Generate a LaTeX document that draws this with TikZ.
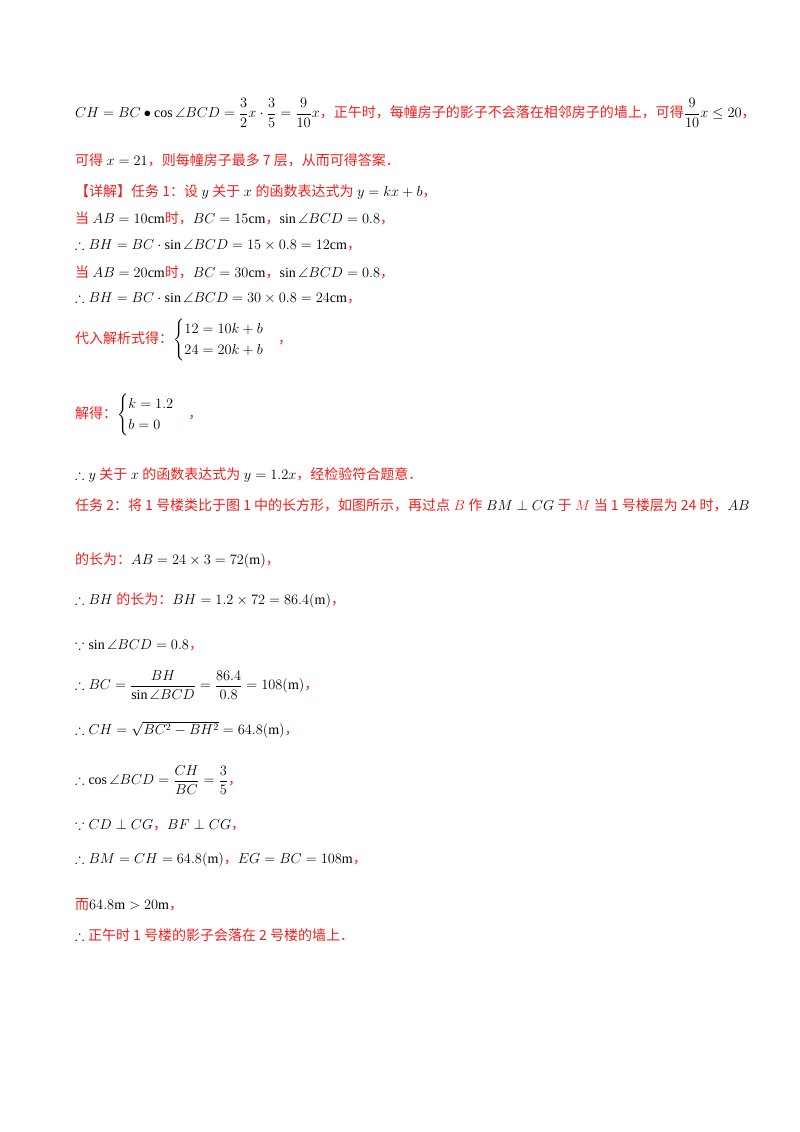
\documentclass[tikz,border=0pt]{standalone}
\usepackage{amsmath,amssymb}
\usepackage{fontspec}
\setmainfont{Liberation Serif}
\newfontfamily\cjk{Noto Sans CJK SC}
\definecolor{rd}{RGB}{240,30,30}
\newcommand{\R}[1]{{\color{rd}\cjk #1}}
\begin{document}
\begin{tikzpicture}[x=1pt,y=-1pt,every node/.style={anchor=west,inner sep=0pt,font=\fontsize{14}{17}\selectfont}]
\useasboundingbox (0,0) rectangle (800,1132);
\node (l1) at (75,113) {$CH=BC\bullet\cos\angle BCD=\dfrac32x\cdot\dfrac35=\dfrac9{10}x$\R{，正午时，每幢房子的影子不会落在相邻房子的墙上，可得}$\dfrac9{10}x\le20$\R{，}};
\node (l2) at (75,160) {\R{可得} $x=21$\R{，则每幢房子最多 7 层，从而可得答案．}};
\node (l3) at (75,192) {\R{【详解】任务 1：设} $y$ \R{关于} $x$ \R{的函数表达式为} $y=kx+b$\R{，}};
\node (l4) at (75,218) {\R{当} $AB=10\mathrm{cm}$\R{时，}$BC=15\mathrm{cm}$\R{，}$\sin\angle BCD=0.8$\R{，}};
\node (l5) at (75,245) {$\therefore BH=BC\cdot\sin\angle BCD=15\times0.8=12\mathrm{cm}$\R{，}};
\node (l6) at (75,272) {\R{当} $AB=20\mathrm{cm}$\R{时，}$BC=30\mathrm{cm}$\R{，}$\sin\angle BCD=0.8$\R{，}};
\node (l7) at (75,298) {$\therefore BH=BC\cdot\sin\angle BCD=30\times0.8=24\mathrm{cm}$\R{，}};
\node (l8) at (75,340) {\R{代入解析式得：}$\begin{cases}12=10k+b\\24=20k+b\end{cases}$\R{，}};
\node (l9) at (75,415) {\R{解得：}$\begin{cases}k=1.2\\b=0\end{cases}$\R{，}};
\node (l10) at (75,475) {$\therefore y$ \R{关于} $x$ \R{的函数表达式为} $y=1.2x$\R{，经检验符合题意．}};
\node (l11) at (75,505) {\R{任务 2：将 1 号楼类比于图 1 中的长方形，如图所示，再过点} {\color{rd}$B$} \R{作} $BM\perp CG$ \R{于} {\color{rd}$M$} \R{当 1 号楼层为 24 时，}$AB$};
\node (l12) at (75,560) {\R{的长为：}$AB=24\times3=72(\mathrm{m})$\R{，}};
\node (l13) at (75,600) {$\therefore BH$ \R{的长为：}$BH=1.2\times72=86.4(\mathrm{m})$\R{，}};
\node (l14) at (75,645) {$\because\sin\angle BCD=0.8$\R{，}};
\node (l15) at (75,685) {$\therefore BC=\dfrac{BH}{\sin\angle BCD}=\dfrac{86.4}{0.8}=108(\mathrm{m})$\R{，}};
\node (l16) at (75,730) {$\therefore CH=\sqrt{BC^2-BH^2}=64.8(\mathrm{m})$\R{，}};
\node (l17) at (75,780) {$\therefore\cos\angle BCD=\dfrac{CH}{BC}=\dfrac35$\R{，}};
\node (l18) at (75,825) {$\because CD\perp CG$\R{，}$BF\perp CG$\R{，}};
\node (l19) at (75,860) {$\therefore BM=CH=64.8(\mathrm{m})$\R{，}$EG=BC=108\mathrm{m}$\R{，}};
\node (l20) at (75,905) {\R{而}$64.8\mathrm{m}>20\mathrm{m}$\R{，}};
\node (l21) at (75,935) {$\therefore$ \R{正午时 1 号楼的影子会落在 2 号楼的墙上．}};
\end{tikzpicture}
\end{document}
